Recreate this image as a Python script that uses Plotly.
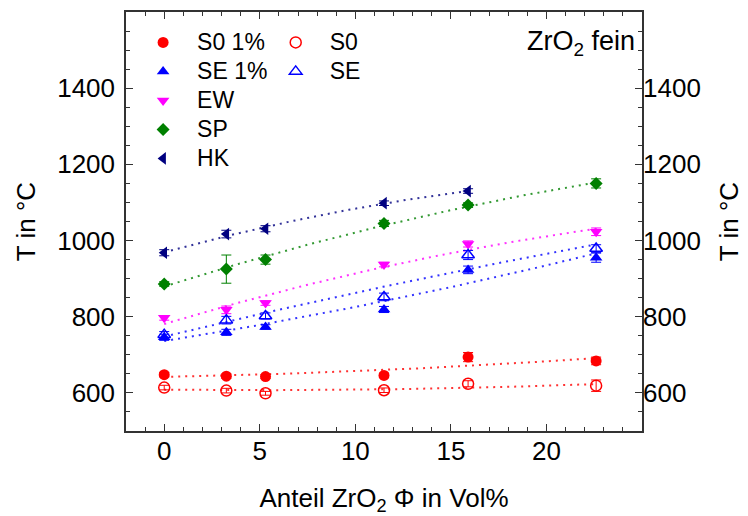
import numpy as np
import plotly.graph_objects as go

# ---- data ----
x_vol = [0, 3.25, 5.3, 11.5, 15.9, 22.6]
x_hk = [0, 3.25, 5.3, 11.5, 15.9]

s0_1 = [648, 644, 643, 646, 694, 684]
s0_1_err = [6, 6, 5, 6, 12, 10]
s0 = [614, 606, 599, 607, 624, 619]
s0_err = [6, 6, 5, 6, 8, 15]
se_1 = [746, 759, 773, 819, 923, 955]
se_1_err = [8, 8, 6, 8, 10, 12]
se = [753, 791, 802, 852, 962, 979]
se_err = [8, 10, 8, 10, 12, 10]
ew = [797, 818, 836, 937, 991, 1023]
ew_err = [6, 10, 6, 6, 8, 10]
sp = [886, 925, 950, 1045, 1093, 1150]
sp_err = [6, 37, 12, 8, 6, 12]
hk = [968, 1017, 1031, 1098, 1130]
hk_err = [8, 10, 8, 6, 6]

x_ticks = [0, 5, 10, 15, 20]
y_ticks = [600, 800, 1000, 1200, 1400]

FONT = "Liberation Sans, Arial, sans-serif"
TICK_SIZE = 26

series = [
    # name, x, y, err, color, symbol, legend, open, size
    ("S0 1%", x_vol, s0_1, s0_1_err, "#ff0000", "circle", "legend", False, 11),
    ("SE 1%", x_vol, se_1, se_1_err, "#0000ff", "triangle-up", "legend", False, 11),
    ("EW", x_vol, ew, ew_err, "#ff00ff", "triangle-down", "legend", False, 11),
    ("SP", x_vol, sp, sp_err, "#008000", "diamond", "legend", False, 10),
    ("HK", x_hk, hk, hk_err, "#000080", "triangle-left", "legend", False, 11),
    ("S0", x_vol, s0, s0_err, "#ff0000", "circle-open", "legend2", True, 11),
    ("SE", x_vol, se, se_err, "#0000ff", "triangle-up-open", "legend2", True, 11),
]

fig = go.Figure()

# fit lines (quadratic fits of each series)
for name, xs, ys, err, col, sym, leg, op, sz in series:
    coef = np.polyfit(xs, ys, 2)
    xf = np.linspace(xs[0], xs[-1], 80)
    fig.add_trace(go.Scatter(
        x=xf, y=np.polyval(coef, xf), mode="lines",
        line=dict(color=col, width=2, dash="2px,5px"),
        opacity=0.8, showlegend=False, hoverinfo="skip"))

for name, xs, ys, err, col, sym, leg, op, sz in series:
    fig.add_trace(go.Scatter(
        x=xs, y=ys, mode="markers",
        name=f'<span style="font-size:23px">{name}</span>', legend=leg,
        marker=dict(symbol=sym, size=sz, color=col,
                    line=dict(color=col, width=1.5 if op else 0)),
        error_y=dict(type="data", array=err, color=col, thickness=1, width=5),
    ))

# empty trace so the right-hand axis is drawn
fig.add_trace(go.Scatter(x=[None], y=[None], yaxis="y2", showlegend=False))

axis_common = dict(
    showline=True, linecolor="#333333", linewidth=1.5,
    ticks="inside", ticklen=7, tickwidth=1.2, tickcolor="#333333",
    tickfont=dict(family=FONT, size=TICK_SIZE, color="black"),
    showgrid=False, zeroline=False, automargin=False,
)

fig.update_layout(
    width=740, height=508,
    margin=dict(l=118, r=106, t=4, b=85),
    paper_bgcolor="white", plot_bgcolor="white",
    font=dict(family=FONT, color="black"),
    xaxis=dict(
        range=[-2, 25], tickvals=x_ticks, mirror="ticks", ticklabelstandoff=-4,
        minor=dict(ticks="inside", ticklen=4, dtick=1, tick0=0, tickcolor="#333333"),
        title=dict(text="Anteil ZrO<sub>2</sub> Φ in Vol%", font=dict(family=FONT, size=TICK_SIZE), standoff=26),
        **axis_common),
    yaxis=dict(
        range=[500, 1600], tickvals=y_ticks, mirror="ticks", ticklabelstandoff=4,
        minor=dict(ticks="inside", ticklen=4, dtick=50, tick0=0, tickcolor="#333333"),
        title=dict(text="T in °C", font=dict(family=FONT, size=TICK_SIZE), standoff=14),
        **axis_common),
    yaxis2=dict(
        range=[500, 1600], tickvals=y_ticks, overlaying="y", side="right",
        showline=False, ticks="", showgrid=False, zeroline=False, automargin=False,
        tickfont=dict(family=FONT, size=TICK_SIZE, color="black"),
        title=dict(text="T in °C", font=dict(family=FONT, size=TICK_SIZE), standoff=19),
    ),
    legend=dict(x=0.006, y=0.974, xanchor="left", yanchor="top",
                font=dict(family=FONT, size=20), bgcolor="rgba(0,0,0,0)",
                itemwidth=58, traceorder="normal"),
    legend2=dict(x=0.263, y=0.974, xanchor="left", yanchor="top",
                 font=dict(family=FONT, size=20), bgcolor="rgba(0,0,0,0)",
                 itemwidth=58, traceorder="normal"),
    annotations=[dict(
        text="ZrO<sub>2</sub> fein", xref="paper", yref="paper",
        x=0.99, y=0.926, xanchor="right", yanchor="middle", showarrow=False,
        font=dict(family=FONT, size=27, color="black"))],
)

fig.write_html("out.html")
